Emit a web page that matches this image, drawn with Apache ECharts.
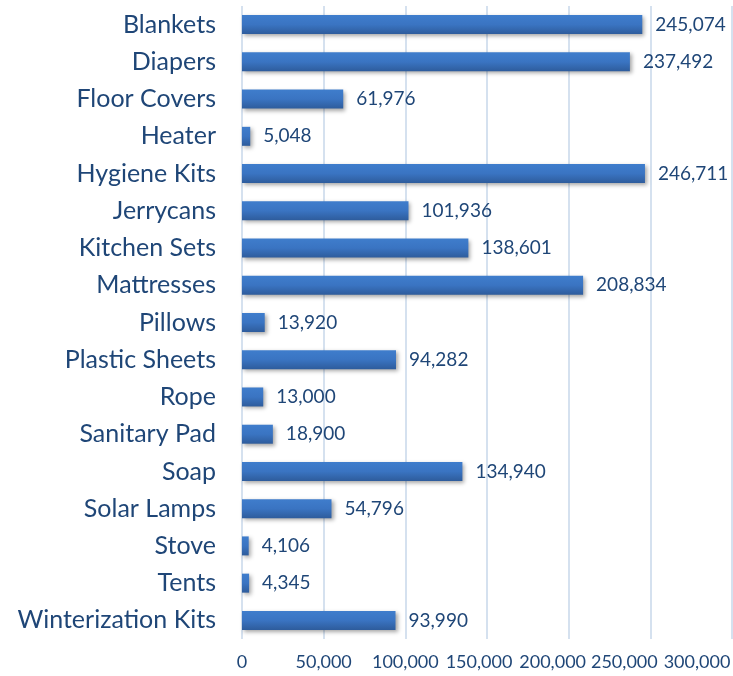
<!DOCTYPE html>
<html><head><meta charset="utf-8">
<script src="https://cdn.jsdelivr.net/npm/echarts@6/dist/echarts.min.js"></script>
<style>html,body{margin:0;padding:0;background:#fff}#c{width:733px;height:676px}</style>
</head><body><div id="c"></div>
<script>
const categories = ["Blankets","Diapers","Floor Covers","Heater","Hygiene Kits","Jerrycans","Kitchen Sets","Mattresses","Pillows","Plastic Sheets","Rope","Sanitary Pad","Soap","Solar Lamps","Stove","Tents","Winterization Kits"];
const values = [245074,237492,61976,5048,246711,101936,138601,208834,13920,94282,13000,18900,134940,54796,4106,4345,93990];
const xTicks = [0,50000,100000,150000,200000,250000,300000];

const font = "Lato, 'Noto Sans', sans-serif";
const txt = '#1f4677';
// tick labels are packed leftwards (as in the source) so they don't overlap
const shift = [0, 0, 0, 16, 32, 52, 70];
const rich = {};
shift.forEach((s, i) => { rich['t' + i] = {color: txt, fontFamily: font, fontSize: 18, padding: [0, s, 0, 0]}; });

const chart = echarts.init(document.getElementById('c'));
chart.setOption({
  animation: false,
  grid: {left: 242, right: 1, top: 6, bottom: 37, containLabel: false, outerBoundsMode: 'none'},
  xAxis: {
    type: 'value', min: xTicks[0], max: xTicks[xTicks.length-1], interval: 50000,
    axisLine: {show: false}, axisTick: {show: false},
    splitLine: {show: true, lineStyle: {color: '#d5e1ef', width: 2}},
    axisLabel: {color: txt, fontFamily: font, fontSize: 18, margin: 14, hideOverlap: false,
      rich: rich,
      formatter: v => '{t' + xTicks.indexOf(v) + '|' + v.toLocaleString('en-US') + '}'}
  },
  yAxis: {
    type: 'category', data: categories, inverse: true,
    axisLine: {show: false}, axisTick: {show: false},
    axisLabel: {color: txt, fontFamily: font, fontSize: 25, margin: 26}
  },
  series: [{
    type: 'bar', data: values, barWidth: '51%',
    itemStyle: {
      color: new echarts.graphic.LinearGradient(0,0,0,1,[
        {offset:0, color:'#3f7dcc'},{offset:0.5,color:'#3a74c2'},{offset:1,color:'#2e5c9c'}]),
      shadowColor: 'rgba(0,0,0,0.35)', shadowBlur: 4, shadowOffsetX: 2, shadowOffsetY: 2
    },
    label: {show: true, position: 'right', distance: 13, color: txt, fontFamily: font, fontSize: 19,
      formatter: p => p.value.toLocaleString('en-US')}
  }]
});
</script></body></html>
